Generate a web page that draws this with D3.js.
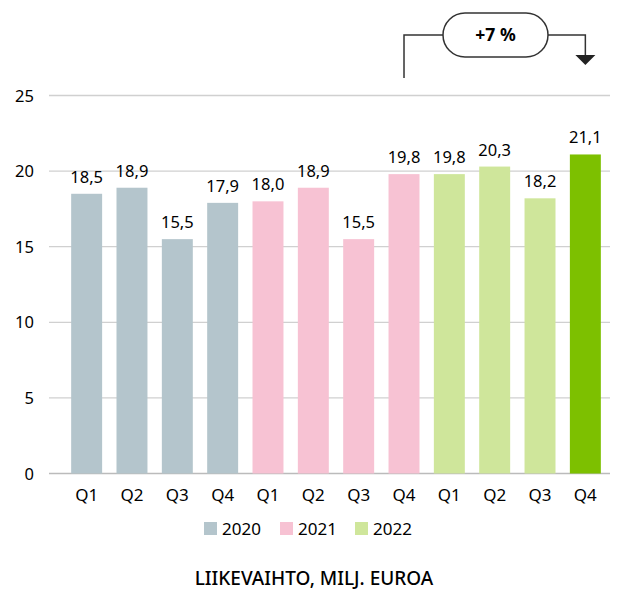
<!DOCTYPE html>
<html>
<head>
<meta charset="utf-8">
<script src="https://d3js.org/d3.v7.min.js"></script>
<style>
  body { margin: 0; background: #fff; }
  text { font-family: "Noto Sans", "DejaVu Sans", sans-serif; fill: #000; }
</style>
</head>
<body>
<div id="chart"></div>
<script>
// data
var years = ["2020", "2021", "2022"];
var quarters = ["Q1", "Q2", "Q3", "Q4"];
var values = [18.5, 18.9, 15.5, 17.9, 18.0, 18.9, 15.5, 19.8, 19.8, 20.3, 18.2, 21.1];
var yTicks = [0, 5, 10, 15, 20, 25];
var yearColors = ["#b4c5cc", "#f7c2d3", "#cfe69b"];
var highlightColor = "#7dc000";
var changeLabel = "+7 %";
var title = "LIIKEVAIHTO, MILJ. EUROA";

var data = values.map(function(v, i) {
  return { i: i, year: years[Math.floor(i / 4)], q: quarters[i % 4], value: v };
});

var W = 622, H = 590;
var svg = d3.select("#chart").append("svg").attr("width", W).attr("height", H);

var x = d3.scaleBand().domain(d3.range(data.length)).range([64, 608]).paddingInner(0.317).paddingOuter(0.158);
var y = d3.scaleLinear().domain([0, 25]).range([473.5, 95.5]);
var color = d3.scaleOrdinal().domain(years).range(yearColors);

// grid
svg.append("g").selectAll("line").data(yTicks).enter().append("line")
  .attr("x1", 49).attr("x2", 610)
  .attr("y1", function(d) { return y(d); }).attr("y2", function(d) { return y(d); })
  .attr("stroke", function(d) { return d === 0 ? "#bbb" : "#d0d0d0"; })
  .attr("stroke-width", 1.3);

svg.append("g").selectAll("text").data(yTicks).enter().append("text")
  .attr("x", 34).attr("y", function(d) { return y(d) + 6; })
  .attr("text-anchor", "end").attr("font-size", 16.5)
  .text(function(d) { return d; });

// bars
svg.append("g").selectAll("rect").data(data).enter().append("rect")
  .attr("x", function(d) { return x(d.i); })
  .attr("width", x.bandwidth())
  .attr("y", function(d) { return y(d.value); })
  .attr("height", function(d) { return y(0) - y(d.value); })
  .attr("fill", function(d, i) { return i === data.length - 1 ? highlightColor : color(d.year); });

// value labels
svg.append("g").selectAll("text").data(data).enter().append("text")
  .attr("x", function(d) { return x(d.i) + x.bandwidth() / 2; })
  .attr("y", function(d) { return y(d.value) - 11; })
  .attr("text-anchor", "middle").attr("font-size", 16.5)
  .text(function(d) { return d3.format(".1f")(d.value).replace(".", ","); });

// x labels
svg.append("g").selectAll("text").data(data).enter().append("text")
  .attr("x", function(d) { return x(d.i) + x.bandwidth() / 2; })
  .attr("y", 501)
  .attr("text-anchor", "middle").attr("font-size", 17)
  .text(function(d) { return d.q; });

// legend
var legendX = [204, 280, 355];
var lg = svg.append("g").selectAll("g").data(years).enter().append("g")
  .attr("transform", function(d, i) { return "translate(" + legendX[i] + ",522)"; });
lg.append("rect").attr("width", 13).attr("height", 13).attr("fill", function(d) { return color(d); });
lg.append("text").attr("x", 18).attr("y", 13).attr("font-size", 17).text(function(d) { return d; });

// title
svg.append("text").attr("x", 314).attr("y", 585).attr("text-anchor", "middle")
  .attr("font-size", 19).attr("font-weight", 500).text(title);

// change annotation
var xa = x(7) + x.bandwidth() / 2, xb = x(11) + x.bandwidth() / 2;
var pillX = 443, pillW = 105, pillY = 13, pillH = 44, midY = 35;
var ann = svg.append("g").attr("stroke", "#333").attr("stroke-width", 1.5).attr("fill", "none");
ann.append("path").attr("d", "M" + xa + ",78V" + midY + "H" + pillX);
ann.append("path").attr("d", "M" + (pillX + pillW) + "," + midY + "H" + xb + "V56");
ann.append("rect").attr("x", pillX).attr("y", pillY).attr("width", pillW).attr("height", pillH)
  .attr("rx", pillH / 2).attr("fill", "#fff");
svg.append("path").attr("d", "M" + (xb - 10) + ",55H" + (xb + 10) + "L" + xb + ",65Z").attr("fill", "#222");
svg.append("text").attr("x", pillX + pillW / 2).attr("y", midY + 6).attr("text-anchor", "middle")
  .attr("font-size", 17.5).attr("font-weight", "bold").text(changeLabel);
</script>
</body>
</html>
